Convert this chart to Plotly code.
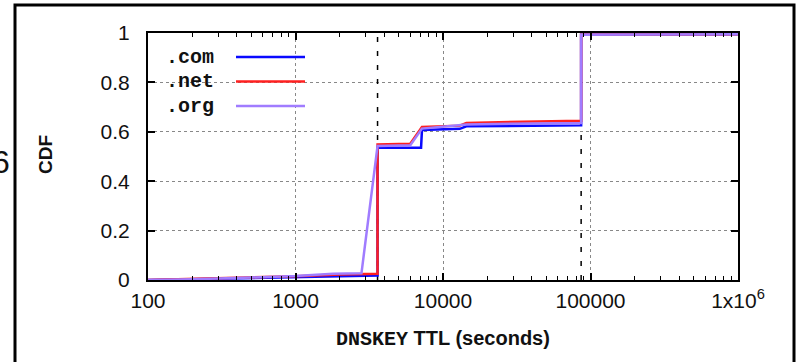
import plotly.graph_objects as go

# ---- data ----
com_ttl = [100, 200, 500, 1000, 2000, 3599, 3600, 7100, 7200, 13000, 14400, 86399, 86400, 1000000]
com_cdf = [0.0, 0.003, 0.006, 0.010, 0.015, 0.018, 0.535, 0.535, 0.607, 0.612, 0.622, 0.626, 0.993, 0.995]

net_ttl = [100, 200, 500, 1000, 2000, 3599, 3600, 6000, 7200, 13000, 14400, 50000, 86399, 86400, 1000000]
net_cdf = [0.0, 0.004, 0.010, 0.015, 0.022, 0.025, 0.549, 0.552, 0.620, 0.625, 0.636, 0.642, 0.645, 0.993, 0.995]

org_ttl = [100, 200, 500, 1000, 1800, 2800, 3600, 6000, 7200, 14400, 86399, 86400, 1000000]
org_cdf = [0.0, 0.003, 0.010, 0.016, 0.025, 0.027, 0.543, 0.546, 0.613, 0.630, 0.636, 0.993, 0.995]

series_names = [".com", ".net", ".org"]
series_colors = ["#0a0aff", "#ff2020", "#a07cff"]

ref_ttl = [3600, 86400]
ref_labels = ["1 hour", "1 day"]
ref_label_cdf = [0.8, 0.4]

x_tickvals = [100, 1000, 10000, 100000, 1000000]
x_ticktext = ["100", "1000", "10000", "100000", "1x10<sup>6</sup>"]
y_tickvals = [0, 0.2, 0.4, 0.6, 0.8, 1]

minor_vals = [m * 10 ** e for e in range(2, 6) for m in range(2, 10)]

fig = go.Figure()

for t in ref_ttl:
    fig.add_trace(go.Scatter(x=[t, t], y=[0, 1], mode="lines",
                             line=dict(color="black", width=1.5, dash="5px,9px"),
                             showlegend=False, hoverinfo="skip"))

for xs, ys, name, col in zip([com_ttl, net_ttl, org_ttl], [com_cdf, net_cdf, org_cdf],
                             series_names, series_colors):
    fig.add_trace(go.Scatter(x=xs, y=ys, mode="lines", name=name,
                             line=dict(color=col, width=2.5), showlegend=False))

L, R, T, B = 148, 60, 33, 82
W, H = 798, 362
pw, ph = W - L - R, H - T - B

def px(x):
    return (x - L) / pw

def py(y):
    return (H - B - y) / ph

annotations = []
shapes = []

# legend (text left, sample line right, gnuplot style)
for i, (name, col) in enumerate(zip(series_names, series_colors)):
    yy = 57 + i * 24.5
    annotations.append(dict(xref="paper", yref="paper", x=px(164), y=py(yy), xanchor="left",
                            yanchor="middle", text="<b>" + name + "</b>", showarrow=False,
                            font=dict(family="Liberation Mono", size=20, color="#111")))
    shapes.append(dict(type="line", xref="paper", yref="paper", x0=px(236), x1=px(305),
                       y0=py(yy), y1=py(yy), line=dict(color=col, width=2.5)))

# reference labels with arrows
for t, lab, yv, off in zip(ref_ttl, ref_labels, ref_label_cdf, [86, 55]):
    annotations.append(dict(x=t, y=yv, xref="x", yref="y", text=lab, showarrow=True,
                            ax=off, ay=0, arrowhead=2, arrowsize=1.1, arrowwidth=1.4,
                            arrowcolor="#111", standoff=0,
                            font=dict(family="Liberation Sans", size=22, color="#111")))

# clipped character at far left
annotations.append(dict(xref="paper", yref="paper", x=px(12), y=py(162), xanchor="right",
                        yanchor="middle", text="6", showarrow=False,
                        font=dict(family="Liberation Sans", size=32, color="#111")))

# y title
annotations.append(dict(xref="paper", yref="paper", x=px(45), y=py(155), text="<b>CDF</b>",
                        xanchor="center", yanchor="middle",
                        textangle=-90, showarrow=False,
                        font=dict(family="Liberation Sans", size=19, color="#111")))
# x title
annotations.append(dict(xref="paper", yref="paper", x=px(443), y=py(339),
                        xanchor="center", yanchor="middle",
                        text="<b><span style='font-family:Liberation Mono'>DNSKEY</span> TTL (seconds)</b>",
                        showarrow=False,
                        font=dict(family="Liberation Sans", size=20, color="#111")))

# outer frame
shapes.append(dict(type="rect", xref="paper", yref="paper", x0=px(15), x1=px(794),
                   y0=py(366), y1=py(5), line=dict(color="black", width=3)))

fig.update_layout(
    width=W, height=H,
    margin=dict(l=L, r=R, t=T, b=B),
    paper_bgcolor="white", plot_bgcolor="white",
    annotations=annotations, shapes=shapes,
    showlegend=False,
)

fig.update_xaxes(type="log", range=[2, 6], tickvals=x_tickvals, ticktext=x_ticktext,
                 ticks="inside", ticklen=7, tickwidth=1.5, tickcolor="black",
                 showline=True, linecolor="black", linewidth=2, mirror="ticks",
                 showgrid=True, gridcolor="#888", griddash="dot", gridwidth=1,
                 zeroline=False, ticklabelstandoff=1,
                 minor=dict(tickvals=minor_vals, ticks="inside", ticklen=4, tickcolor="black",
                            tickwidth=1.2, showgrid=False),
                 tickfont=dict(family="Liberation Sans", size=21, color="#111"))
fig.update_yaxes(range=[0, 1], tickvals=y_tickvals,
                 ticks="inside", ticklen=7, tickwidth=1.5, tickcolor="black",
                 showline=True, linecolor="black", linewidth=2, mirror="ticks",
                 showgrid=True, gridcolor="#888", griddash="dot", gridwidth=1,
                 zeroline=False, ticklabelstandoff=12,
                 tickfont=dict(family="Liberation Sans", size=21, color="#111"))

fig.write_html("out.html", config={"displayModeBar": False},
               post_script="document.body.style.margin='0';document.body.style.overflow='hidden';")
